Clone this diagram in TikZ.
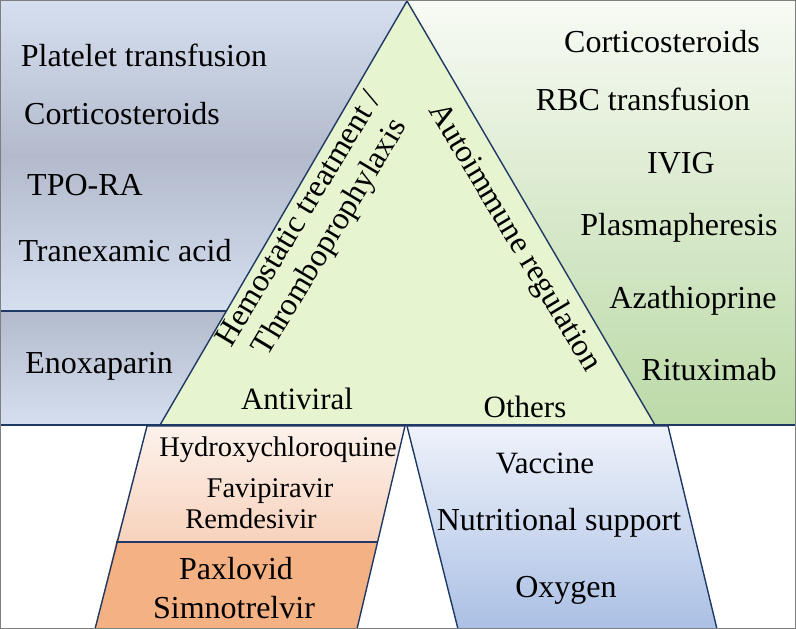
\documentclass[tikz,border=0pt]{standalone}
\usepackage{fontspec}
\setmainfont{Liberation Serif}
\definecolor{navy}{HTML}{1F3864}
\definecolor{frame}{HTML}{7F7F7F}
\definecolor{triF}{HTML}{E6F5D0}
\definecolor{ltop}{HTML}{D6DFF0}
\definecolor{lmid}{HTML}{B2BACC}
\definecolor{lbot}{HTML}{D6DFF0}
\definecolor{rtop}{HTML}{F8FBF5}
\definecolor{rmid}{HTML}{D8E9CB}
\definecolor{rbot}{HTML}{BCDAA8}
\definecolor{ptop}{HTML}{FDF2EC}
\definecolor{pbot}{HTML}{F7D2BC}
\definecolor{pax}{HTML}{F4B183}
\definecolor{btop}{HTML}{EEF2FA}
\definecolor{bbot}{HTML}{ABC0E5}
\begin{document}
\begin{tikzpicture}[x=1pt,y=-1pt,
  edge/.style={draw=navy, line width=1.4pt, line join=miter},
  big/.style={font=\fontsize{32}{34}\selectfont, anchor=base, inner sep=0pt},
  small/.style={font=\fontsize{28.5}{30}\selectfont, anchor=base, inner sep=0pt},
  mid/.style={font=\fontsize{31}{33}\selectfont, anchor=base, inner sep=0pt},
  rot/.style={font=\fontsize{32}{36}\selectfont, align=center, inner sep=0pt}]
\useasboundingbox (0,0) rectangle (796,629);
% background regions
\shade[top color=ltop, bottom color=lbot, middle color=lmid] (0,0) rectangle (407,311);
\shade[top color=lmid, bottom color=lbot] (0,311) rectangle (407,425);
\shade[top color=rtop, bottom color=rbot, middle color=rmid] (407,0) rectangle (796,425);
% triangle
\coordinate (apex) at (407,1);
\coordinate (tl) at (160,425);
\coordinate (tr) at (655,425);
\filldraw[edge, fill=triF] (apex) -- (tl) -- (tr) -- cycle;
% dividers
\coordinate (d1) at (0,311);
\coordinate (d2) at (226.4,311);
\draw[edge] (d1) -- (d2);
\coordinate (b1) at (0,425);
\coordinate (b2) at (796,425);
\draw[edge] (b1) -- (b2);
% bottom-left trapezoid
\shade[top color=ptop, bottom color=pbot] (147,426) -- (405,426) -- (377,542) -- (116,542) -- cycle;
\fill[pax] (116,542) -- (377,542) -- (357,629) -- (95,629) -- cycle;
\draw[edge] (147,426) -- (405,426) -- (357,629) -- (95,629) -- cycle;
\draw[edge] (116,542) -- (377,542);
% bottom-right trapezoid
\shade[top color=btop, bottom color=bbot] (407,426) -- (668,426) -- (717,629) -- (458,629) -- cycle;
\draw[edge] (407,426) -- (668,426) -- (717,629) -- (458,629) -- cycle;
% frame
\draw[frame, line width=1.2pt] (0.6,0.6) rectangle (795.4,628.4);
% left texts
\node[big] (plt) at (144,66) {Platelet transfusion};
\node[big] (cor1) at (122,124) {Corticosteroids};
\node[big] (tpo) at (85,195) {TPO-RA};
\node[big] (txa) at (125,261) {Tranexamic acid};
\node[big] (eno) at (99,373) {Enoxaparin};
% right texts
\node[big] (cor2) at (662,52) {Corticosteroids};
\node[big] (rbc) at (643,110) {RBC transfusion};
\node[big] (ivig) at (681,173) {IVIG};
\node[big] (plas) at (679,235) {Plasmapheresis};
\node[big] (aza) at (693,308) {Azathioprine};
\node[big] (rtx) at (709,380) {Rituximab};
% triangle texts
\node[rot, rotate=59] (hemo) at (316,229) {Hemostatic treatment /\\Thromboprophylaxis};
\node[rot, rotate=-59] (auto) at (514,238) {Autoimmune regulation};
\node[mid] (antiv) at (297,409) {Antiviral};
\node[mid] (oth) at (525,417) {Others};
% bottom texts
\node[small] (hcq) at (278,456) {Hydroxychloroquine};
\node[small] (fav) at (270,497) {Favipiravir};
\node[small] (rem) at (251,528) {Remdesivir};
\node[big] (pax) at (236,579) {Paxlovid};
\node[big] (sim) at (234,618) {Simnotrelvir};
\node[mid] (vac) at (545,473) {Vaccine};
\node[big] (nut) at (559,530) {Nutritional support};
\node[big] (oxy) at (566,597) {Oxygen};
\end{tikzpicture}
\end{document}
